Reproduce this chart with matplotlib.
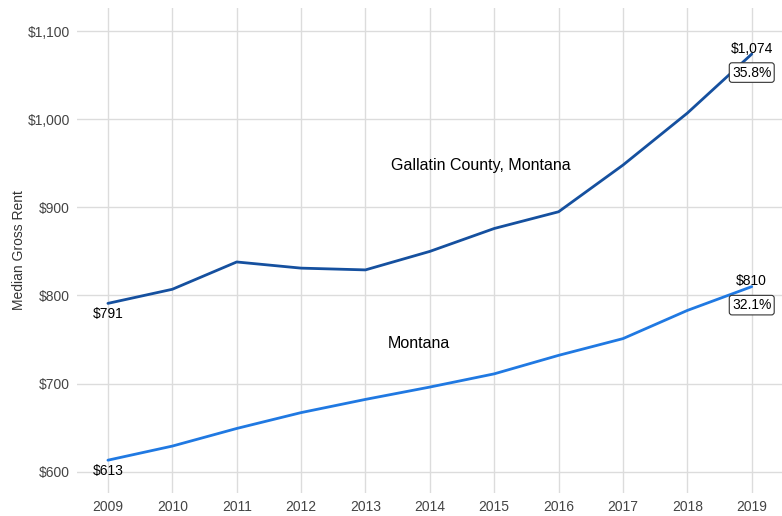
import matplotlib
matplotlib.use("Agg")
import matplotlib.pyplot as plt
from matplotlib.ticker import FuncFormatter

years = list(range(2009, 2020))
gallatin = [791, 807, 838, 831, 829, 850, 876, 895, 948, 1007, 1074]
montana = [613, 629, 649, 667, 682, 696, 711, 732, 751, 783, 810]
gallatin_change = "35.8%"
montana_change = "32.1%"
yticks = [600, 700, 800, 900, 1000, 1100]

dark_blue = "#15509f"
light_blue = "#2079e2"

plt.rcParams['font.family'] = ['Liberation Sans', 'DejaVu Sans']

fig = plt.figure(figsize=(7.82, 5.16), dpi=100)
ax = fig.add_axes([0.0985, 0.045, 0.9015, 0.939])

ax.plot(years, gallatin, color=dark_blue, lw=2.0, solid_capstyle="round")
ax.plot(years, montana, color=light_blue, lw=2.0, solid_capstyle="round")

ax.set_xlim(2008.52, 2019.47)
ax.set_ylim(576, 1126)
ax.set_xticks(years)
ax.set_yticks(yticks)
ax.yaxis.set_major_formatter(FuncFormatter(lambda v, p: "${:,.0f}".format(v)))
ax.grid(True, color="#dcdcdc", lw=1.0)
ax.set_axisbelow(True)
for s in ax.spines.values():
    s.set_visible(False)
ax.tick_params(length=0, labelsize=10, labelcolor="#444444", pad=5)
ax.set_ylabel("Median Gross Rent", fontsize=10, color="#333333", labelpad=1)

# start values
ax.text(years[0], gallatin[0] - 4, "${:,}".format(gallatin[0]), ha="center", va="top", fontsize=10)
ax.text(years[0], montana[0] - 4, "${:,}".format(montana[0]), ha="center", va="top", fontsize=10)

# end values and changes
box = dict(boxstyle="round,pad=0.2", fc="white", ec="#333333", lw=0.8)
for vals, chg in [(gallatin, gallatin_change), (montana, montana_change)]:
    ax.text(years[-1], vals[-1] - 2, "${:,}".format(vals[-1]), ha="center", va="bottom", fontsize=10)
    ax.text(years[-1], vals[-1] - 21, chg, ha="center", va="center", fontsize=10, bbox=box)

ax.text(2014.79, 948, "Gallatin County, Montana", ha="center", va="center", fontsize=11.5)
ax.text(2013.83, 746, "Montana", ha="center", va="center", fontsize=11.5)

fig.savefig("out.png", dpi=100)
